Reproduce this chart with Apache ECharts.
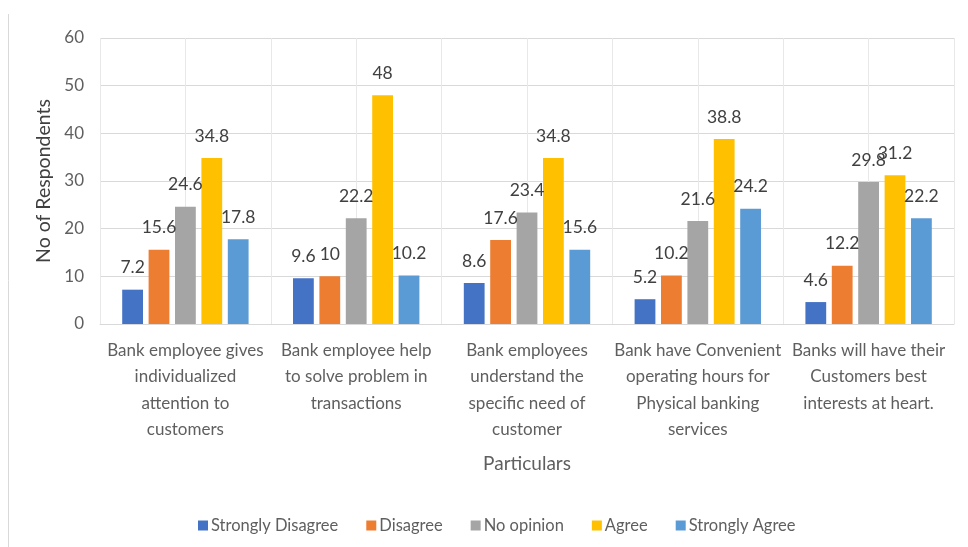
<!DOCTYPE html>
<html>
<head>
<meta charset="utf-8">
<script src="https://cdn.jsdelivr.net/npm/echarts@6/dist/echarts.min.js"></script>
<style>
  html, body { margin: 0; padding: 0; background: #fff; }
  #chart { width: 968px; height: 547px; }
</style>
</head>
<body>
<div id="chart"></div>
<script>
// Survey statements (category axis), wrapped as they are shown under the bars
const categories = [
  'Bank employee gives\nindividualized\nattention to\ncustomers',
  'Bank employee help\nto solve problem in\ntransactions',
  'Bank employees\nunderstand the\nspecific need of\ncustomer',
  'Bank have Convenient\noperating hours for\nPhysical banking\nservices',
  'Banks will have their\nCustomers best\ninterests at heart.'
];

// Responses per statement
const stronglyDisagree = [7.2, 9.6, 8.6, 5.2, 4.6];
const disagree         = [15.6, 10, 17.6, 10.2, 12.2];
const noOpinion        = [24.6, 22.2, 23.4, 21.6, 29.8];
const agree            = [34.8, 48, 34.8, 38.8, 31.2];
const stronglyAgree    = [17.8, 10.2, 15.6, 24.2, 22.2];

const seriesNames  = ['Strongly Disagree', 'Disagree', 'No opinion', 'Agree', 'Strongly Agree'];
const seriesValues = [stronglyDisagree, disagree, noOpinion, agree, stronglyAgree];
const seriesColors = ['#4472C4', '#ED7D31', '#A5A5A5', '#FFC000', '#5B9BD5'];

const FONT = 'Lato';
const TEXT = '#5f5f5f';

const chart = echarts.init(document.getElementById('chart'), null, { renderer: 'canvas' });

chart.setOption({
  animation: false,
  textStyle: { fontFamily: FONT },
  color: seriesColors,
  grid: { left: 100, right: 14, top: 38, bottom: 223, containLabel: false },
  legend: {
    data: seriesNames,
    left: 193,
    top: 512,
    itemWidth: 10,
    itemHeight: 10,
    itemGap: 28,
    icon: 'rect',
    textStyle: { color: TEXT, fontSize: 16.5, fontFamily: FONT, padding: [0, 0, 0, -2] }
  },
  xAxis: [
    {
      type: 'category',
      data: categories,
      name: 'Particulars',
      nameLocation: 'middle',
      nameGap: 130,
      nameTextStyle: { color: TEXT, fontSize: 19, fontFamily: FONT },
      axisLine: { show: true, lineStyle: { color: '#d9d9d9', width: 1 } },
      axisTick: { show: false },
      axisLabel: { color: TEXT, fontSize: 17, fontFamily: FONT, lineHeight: 26.5, margin: 13, interval: 0 },
      splitLine: { show: false }
    },
    {
      // half-category vertical gridlines
      type: 'value',
      min: 0,
      max: 10,
      interval: 1,
      show: true,
      axisLine: { show: false },
      axisTick: { show: false },
      axisLabel: { show: false },
      splitLine: { show: true, lineStyle: { color: '#e8e8e8', width: 1 } }
    }
  ],
  yAxis: {
    type: 'value',
    min: 0,
    max: 60,
    interval: 10,
    name: 'No of Respondents',
    nameLocation: 'middle',
    nameGap: 42,
    nameTextStyle: { color: '#404040', fontSize: 19.5, fontFamily: FONT },
    axisLine: { show: false },
    axisTick: { show: false },
    axisLabel: { color: TEXT, fontSize: 17, fontFamily: FONT, margin: 16 },
    splitLine: { lineStyle: { color: '#d9d9d9', width: 1 } }
  },
  series: seriesNames.map((name, i) => ({
    name,
    type: 'bar',
    xAxisIndex: 0,
    data: seriesValues[i],
    barGap: '27%',
    barCategoryGap: '26%',
    itemStyle: { color: seriesColors[i] },
    label: {
      show: true,
      position: 'top',
      distance: 13,
      color: '#404040',
      fontSize: 17.5,
      fontFamily: FONT
    }
  })),
  graphic: [
    {
      type: 'line',
      shape: { x1: 8.5, y1: 14, x2: 8.5, y2: 547 },
      style: { stroke: '#d9d9d9', lineWidth: 1 }
    }
  ]
});
</script>
</body>
</html>
